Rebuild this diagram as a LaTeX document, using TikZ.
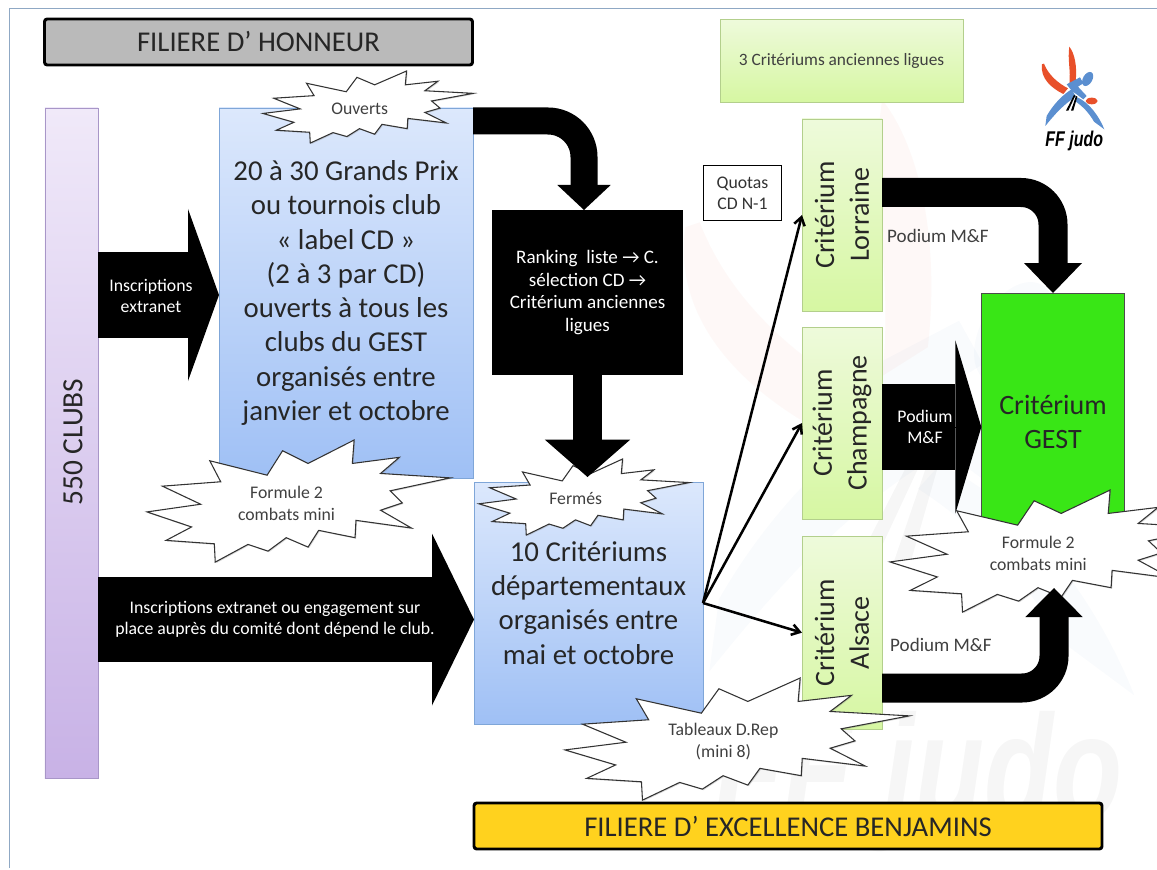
\documentclass[tikz,border=0pt]{standalone}
\usepackage{fontspec}
\setmainfont{Carlito}
\newfontfamily\logofont{Liberation Sans}
\usepackage{xcolor}
\usetikzlibrary{arrows.meta}
\usetikzlibrary{positioning}
\usetikzlibrary{shadows}
\definecolor{framecol}{HTML}{8FA8C4}
\definecolor{bluetop}{HTML}{DCE8FC}
\definecolor{bluebot}{HTML}{9FC0F5}
\definecolor{blueline}{HTML}{7FA6D8}
\definecolor{greentop}{HTML}{EEFADB}
\definecolor{greenbot}{HTML}{D6F7A2}
\definecolor{greenline}{HTML}{B3CF8C}
\definecolor{purpletop}{HTML}{F0E9F9}
\definecolor{purplebot}{HTML}{C8B2E6}
\definecolor{purpleline}{HTML}{A896C8}
\definecolor{gestgreen}{HTML}{39E616}
\definecolor{titlegold}{HTML}{FFD21E}
\definecolor{judored}{HTML}{E8502A}
\definecolor{judoblue}{HTML}{5B8FD0}
\newcommand{\burst}[6]{
\begin{scope}[shift={(#2,#3)},x=#4*0.0075pt,y=-#5*0.0075pt]
\draw[burstline](20.7,17)--(39.6,28.8)--(44.7,8.8)--(53.1,19.2)--(68.3,0)--(67.7,19.2)--(83.2,14.2)--(77,27.4)--(100,31)--(80.2,41.6)--(84.2,51.5)--(77,57.5)--(87.2,72.1)--(68.9,65.8)--(68.6,80)--(56.6,74)--(53.1,87.7)--(45.9,80)--(39.9,91)--(33.3,85.5)--(22.5,100)--(22.2,85)--(6.3,82.2)--(14.7,71.2)--(0,58.9)--(17.7,52.6)--(5.1,37.8)--(24.3,34.2)--cycle;
\node[burstlabel](#1) at (46,52){#6};
\end{scope}}
\newcommand{\judologo}[6]{
\begin{scope}[shift={(#2,#3)},x=#4*0.75pt,y=-#4*0.75pt,opacity=#5]
\fill[judored](246,133) .. controls (240,175) and (275,205) .. (310,222) -- (324,205) .. controls (295,190) and (265,165) .. (252,131) -- cycle;
\fill[judored](328,80) .. controls (344,100) and (352,140) .. (347,183) -- (328,195) .. controls (333,150) and (322,120) .. (328,80) -- cycle;
\fill[judored](395,243) ellipse (18 and 10);
\fill[judoblue,rotate around={-30:(383,177)}](383,177) ellipse (14 and 23);
\fill[judoblue](320,193) -- (360,172) -- (370,190) -- (354,200) -- (380,228) -- (370,238) -- (335,212) -- cycle;
\fill[judoblue](256,318) -- (260,288) .. controls (283,248) and (312,222) .. (335,208) -- (348,230) .. controls (312,252) and (285,282) .. (256,318) -- cycle;
\fill[judoblue](352,232) .. controls (388,248) and (418,290) .. (433,328) -- (402,305) .. controls (388,280) and (368,258) .. (343,242) -- cycle;
\fill[black](318,272) -- (342,225) -- (346,227) -- (325,272) -- cycle;
\fill[black](333,272) -- (348,228) -- (352,230) -- (340,272) -- cycle;
\node[transform shape,xscale=0.75,font=\logofont\bfseries\itshape\fontsize{#6}{#6}\selectfont,text=black](#1) at (343,364){FF judo};
\end{scope}}
\begin{document}
\begin{tikzpicture}[x=0.75pt,y=-0.75pt]
\tikzset{
softshadow/.style={drop shadow={shadow xshift=0.8pt,shadow yshift=-0.8pt,opacity=0.25}},
bigtext/.style={font=\fontsize{21.6}{25.7}\selectfont,text=black!85,align=center},
midtext/.style={font=\fontsize{21}{26}\selectfont,text=black!85,align=center},
smalltext/.style={font=\fontsize{13.3}{15.5}\selectfont,align=center},
titlebar/.style={draw=black,line width=2.2pt,rounded corners=2pt,inner sep=0pt,outer sep=0pt,minimum height=34.5pt,font=\fontsize{21.5}{25}\selectfont,text=black!85},
bluebox/.style={rectangle,draw=blueline,top color=bluetop,bottom color=bluebot,inner sep=0pt,outer sep=0pt,softshadow},
greenbox/.style={rectangle,draw=greenline,top color=greentop,bottom color=greenbot,inner sep=0pt,outer sep=0pt,minimum width=60pt,softshadow},
fatbend/.style={line width=21.75pt,draw=black,rounded corners=24pt},
fatshaft/.style={preaction={draw,-,shorten >=#1}},
thinarrow/.style={line width=1.9pt,-{Straight Barb[length=6pt,width=8pt]}},
burstline/.style={draw=black!80,line width=0.8pt,fill=white,line join=miter,drop shadow={shadow xshift=0.8pt,shadow yshift=-0.8pt,opacity=0.3}},
burstlabel/.style={font=\fontsize{13.3}{16.3}\selectfont,text=black!75,align=center,inner sep=0pt}}
\useasboundingbox (0,0) rectangle (1157,870);
\clip (0,0) rectangle (1157,870);
\fill[white] (0,0) rectangle (1157,870);
\judologo{watermark}{95}{-92}{2.4}{0.035}{113}
\draw[framecol,line width=0.6pt] (9,868) -- (9,8) -- (1157,8);
\judologo{logo}{960}{20}{0.3333}{1}{16}
\node[titlebar,fill=black!27,minimum width=321pt](honneur) at (258.5,42){FILIERE D’ HONNEUR};
\node[titlebar,fill=titlegold,minimum width=471pt](excellence) at (788,826){FILIERE D’ EXCELLENCE BENJAMINS};
\node[greenbox,minimum width=182pt,minimum height=62pt,font=\fontsize{13}{16}\selectfont,text=black!75](anciennes) at (841.5,60.5){3 Critériums anciennes ligues};
\node[rectangle,draw=purpleline,top color=purpletop,bottom color=purplebot,inner sep=0pt,outer sep=0pt,minimum width=40pt,minimum height=502.5pt,softshadow](clubs) at (71.5,443){};
\node[rotate=90,font=\fontsize{22}{26}\selectfont,text=black!85](clubstext) at (73,442){550 CLUBS};
\node[bluebox,minimum width=190.5pt,minimum height=277.5pt,bigtext](grandsprix) at (346,293){20 à 30 Grands Prix\\ou tournois club\\« label CD »\\(2 à 3 par CD)\\ouverts à tous les\\clubs du GEST\\organisés entre\\janvier et octobre};
\node[bluebox,minimum width=171.75pt,minimum height=181.5pt,bigtext](departement) at (588.5,603){10 Critériums\\départementaux\\organisés entre\\mai et octobre};
\node[rectangle,fill=black,text=white,inner sep=0pt,outer sep=0pt,minimum width=143pt,minimum height=124pt,font=\fontsize{14.3}{17}\selectfont,align=center](ranking) at (587.5,292.5){Ranking\ \ liste → C.\\sélection CD →\\Critérium anciennes\\ligues};
\node[rectangle,draw=black,fill=white,line width=0.8pt,inner sep=0pt,outer sep=0pt,minimum width=59pt,minimum height=41pt,smalltext,text=black!80](quotas) at (742.5,193){Quotas\\CD N-1};
\node[greenbox,minimum height=144pt](lorraine) at (842,215){};
\node[greenbox,minimum height=144pt](champagne)[below=12pt of lorraine]{};
\node[greenbox,minimum height=145pt](alsace)[below=12.75pt of champagne]{};
\node[rectangle,draw=black!70,fill=gestgreen,inner sep=0pt,outer sep=0pt,minimum width=107.5pt,minimum height=193.5pt,midtext](gest) at (1053,422){Critérium\\GEST};
\node[rotate=90,midtext](lorrainetext) at (lorraine){Critérium\\Lorraine};
\node[rotate=90,midtext](champagnetext) at (champagne){Critérium\\Champagne};
\node[rotate=90,midtext](alsacetext) at (alsace){Critérium\\Alsace};
\coordinate (inscrfrom) at (98,295);
\coordinate (placefrom) at (98,619.5);
\coordinate (champfrom) at (882,427);
\coordinate (grandout) at (473,121);
\coordinate (rankingin) at (584,210);
\coordinate (lorraineout) at (882,192.5);
\coordinate (alsaceout) at (882,688);
\coordinate (alsaceup) at (1054,588);
\draw[line width=64.5pt,fatshaft=20pt,-{Triangle[length=23.25pt,width=129pt,line width=0pt]}] (inscrfrom) -- (inscrfrom -| grandsprix.west);
\draw[line width=63.75pt,fatshaft=28pt,-{Triangle[length=31.5pt,width=129pt,line width=0pt]}] (placefrom) -- (placefrom -| departement.west);
\draw[line width=64.5pt,fatshaft=14pt,-{Triangle[length=19.5pt,width=130pt,line width=0pt]}] (champfrom) -- (champfrom -| gest.west);
\draw[fatbend,line width=20.25pt,rounded corners=27pt,fatshaft=16pt,-{Triangle[length=18.75pt,width=40pt,line width=0pt]}] (grandout) -| (rankingin);
\draw[fatbend,fatshaft=19pt,-{Triangle[length=22.5pt,width=43.5pt,line width=0pt]}] (lorraineout) -| (gest.north);
\draw[thinarrow] (departement.east) -- (lorraine.west);
\draw[thinarrow] (departement.east) -- (champagne.west);
\draw[thinarrow] (departement.east) -- (alsace.west);
\node[smalltext,text=white](inscrtext) at (151,296){Inscriptions\\extranet};
\node[smalltext,text=white](placetext) at (275,619){Inscriptions extranet ou engagement sur\\place auprès du comité dont dépend le club.};
\node[smalltext,text=white](champtext) at (925,427){Podium\\M\&F};
\node[font=\fontsize{14.3}{16}\selectfont,text=black!75](lorrainepodium) at (938,236){Podium M\&F};
\node[font=\fontsize{14.3}{16}\selectfont,text=black!75](alsacepodium) at (941,645){Podium M\&F};
\burst{ouverts}{263}{71}{210}{72}{Ouverts}
\burst{formulea}{147}{440}{303}{122}{Formule 2\\combats mini}
\burst{fermes}{479}{459}{210}{76}{Fermés}
\burst{tableaux}{565}{678}{344}{122}{Tableaux D.Rep\\(mini 8)}
\burst{formuleb}{890}{490}{322}{122}{Formule 2\\combats mini}
\draw[line width=21.75pt,fatshaft=28pt,shorten >=3.75pt,-{Triangle[length=28pt,width=64pt,line width=0pt]}] (ranking.south) -- (ranking.south |- departement.north);
\draw[fatbend,fatshaft=18pt,-{Triangle[length=21.75pt,width=43pt,line width=0pt]}] (alsaceout) -| (alsaceup);
\end{tikzpicture}
\end{document}
